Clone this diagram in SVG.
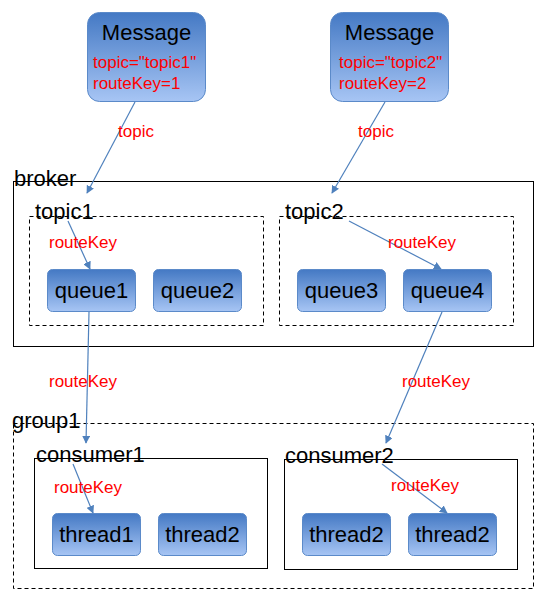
<svg xmlns="http://www.w3.org/2000/svg" width="552" height="605" viewBox="0 0 552 605">
<defs>
<linearGradient id="g" x1="0" y1="0" x2="0" y2="1">
<stop offset="0" stop-color="#4479c4"/>
<stop offset="1" stop-color="#a7c5f4"/>
</linearGradient>
<marker id="ah" viewBox="0 0 10 10" refX="9" refY="5" markerWidth="8" markerHeight="8" markerUnits="userSpaceOnUse" orient="auto">
<path d="M0,0 L10,5 L0,10 z" fill="#4f81bd"/>
</marker>
<style>
.box{fill:url(#g);stroke:#5b8ac9;stroke-width:1}
.t{font-family:"Liberation Sans",Arial,sans-serif;font-size:22px;fill:#000}
.r{font-family:"Liberation Sans",Arial,sans-serif;font-size:17px;fill:#ff0000}
.l{font-family:"Liberation Sans",Arial,sans-serif;font-size:17px;fill:#ff0000;text-anchor:middle}
.c{text-anchor:middle}
.solid{fill:none;stroke:#000;stroke-width:1}
.dash{fill:none;stroke:#000;stroke-width:1;stroke-dasharray:4,3}
.e{stroke:#4f81bd;stroke-width:1.2;fill:none;marker-end:url(#ah)}
</style>
</defs>
<rect width="552" height="605" fill="#fff"/>

<g id="broker">
<rect class="solid" x="13.5" y="181.5" width="520" height="165"/>
<text class="t" x="14" y="186">broker</text>
</g>
<g id="topic1">
<rect class="dash" x="29.5" y="216.5" width="234" height="109"/>
<text class="t" x="35" y="219">topic1</text>
</g>
<g id="topic2">
<rect class="dash" x="279.5" y="216.5" width="234" height="109"/>
<text class="t" x="285" y="219">topic2</text>
</g>
<g id="group1">
<rect class="dash" x="13.5" y="423.5" width="520" height="165"/>
<text class="t" x="12" y="428">group1</text>
</g>
<g id="consumer1">
<rect class="solid" x="34.5" y="458.5" width="233" height="110"/>
<text class="t" x="36" y="462">consumer1</text>
</g>
<g id="consumer2">
<rect class="solid" x="284.5" y="459.5" width="233" height="110"/>
<text class="t" x="285" y="463">consumer2</text>
</g>

<g id="message1">
<rect class="box" x="87.5" y="12.5" width="118" height="89" rx="12"/>
<text class="t c" x="146.5" y="40">Message</text>
<text class="r" x="93" y="68">topic="topic1"</text>
<text class="r" x="93" y="89">routeKey=1</text>
</g>
<g id="message2">
<rect class="box" x="330.5" y="12.5" width="118" height="89" rx="12"/>
<text class="t c" x="389.5" y="40">Message</text>
<text class="r" x="339" y="68">topic="topic2"</text>
<text class="r" x="339" y="89">routeKey=2</text>
</g>

<g id="queue1"><rect class="box" x="47.5" y="269.5" width="88" height="42" rx="5"/><text class="t c" x="91.5" y="298">queue1</text></g>
<g id="queue2"><rect class="box" x="153.5" y="269.5" width="88" height="42" rx="5"/><text class="t c" x="197.5" y="298">queue2</text></g>
<g id="queue3"><rect class="box" x="297.5" y="269.5" width="88" height="42" rx="5"/><text class="t c" x="341.5" y="298">queue3</text></g>
<g id="queue4"><rect class="box" x="403.5" y="269.5" width="88" height="42" rx="5"/><text class="t c" x="447.5" y="298">queue4</text></g>

<g id="thread1a"><rect class="box" x="52.5" y="513.5" width="88" height="42" rx="5"/><text class="t c" x="96.5" y="542">thread1</text></g>
<g id="thread2a"><rect class="box" x="158.5" y="513.5" width="88" height="42" rx="5"/><text class="t c" x="202.5" y="542">thread2</text></g>
<g id="thread2b"><rect class="box" x="302.5" y="513.5" width="88" height="42" rx="5"/><text class="t c" x="346.5" y="542">thread2</text></g>
<g id="thread2c"><rect class="box" x="408.5" y="513.5" width="88" height="42" rx="5"/><text class="t c" x="452.5" y="542">thread2</text></g>

<g id="connectors">
<line class="e" x1="135" y1="102" x2="87" y2="193"/>
<line class="e" x1="385" y1="102" x2="332" y2="193"/>
<line class="e" x1="68" y1="221" x2="90" y2="269"/>
<line class="e" x1="349" y1="221" x2="441" y2="269"/>
<line class="e" x1="89" y1="312" x2="86" y2="443"/>
<line class="e" x1="442" y1="312" x2="386" y2="443"/>
<line class="e" x1="73" y1="464" x2="93" y2="513"/>
<line class="e" x1="382" y1="464" x2="447" y2="513"/>
<text class="l" x="136" y="137">topic</text>
<text class="l" x="376" y="137">topic</text>
<text class="l" x="83" y="248">routeKey</text>
<text class="l" x="422" y="248">routeKey</text>
<text class="l" x="83" y="387">routeKey</text>
<text class="l" x="436" y="387">routeKey</text>
<text class="l" x="88" y="493">routeKey</text>
<text class="l" x="425" y="491">routeKey</text>
</g>
</svg>
